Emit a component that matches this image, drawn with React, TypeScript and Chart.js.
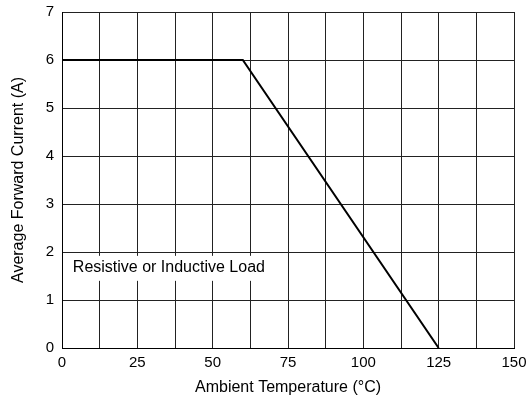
import React, { useEffect, useRef } from "react";
import { Chart, registerables } from "chart.js";

Chart.register(...registerables);

const tempPoints = [0, 60, 125];
const currentPoints = [6, 6, 0];
const xTickLabels = ["0", "25", "50", "75", "100", "125", "150"];
const yTickLabels = ["0", "1", "2", "3", "4", "5", "6", "7"];
const noteText = "Resistive or Inductive Load";
const noteAt = { x: 3.6, y: 1.67 };

const FONT = "'Liberation Sans', Arial, sans-serif";

const notePlugin = {
  id: "note",
  beforeDatasetsDraw(chart: any) {
    const { ctx, scales, chartArea } = chart;
    const px = scales.x.getPixelForValue(noteAt.x);
    const py = scales.y.getPixelForValue(noteAt.y);
    ctx.save();
    ctx.font = `16px ${FONT}`;
    const w = ctx.measureText(noteText).width;
    ctx.fillStyle = "#fff";
    ctx.fillRect(chartArea.left + 1, py - 12, px - chartArea.left - 1 + w + 10, 25);
    ctx.restore();
  },
  afterDatasetsDraw(chart: any) {
    const { ctx, scales } = chart;
    const px = scales.x.getPixelForValue(noteAt.x);
    const py = scales.y.getPixelForValue(noteAt.y);
    ctx.save();
    ctx.font = `16px ${FONT}`;
    ctx.fillStyle = "#000";
    ctx.textAlign = "left";
    ctx.textBaseline = "middle";
    ctx.fillText(noteText, px, py);
    ctx.restore();
  },
};

export default function App() {
  const ref = useRef<HTMLCanvasElement | null>(null);
  useEffect(() => {
    if (!ref.current) return;
    const chart = new Chart(ref.current, {
      type: "line",
      data: {
        datasets: [
          {
            data: tempPoints.map((t, i) => ({ x: t, y: currentPoints[i] })),
            borderColor: "#000",
            borderWidth: 2,
            pointRadius: 0,
            fill: false,
            tension: 0,
          },
        ],
      },
      options: {
        animation: false,
        responsive: false,
        maintainAspectRatio: false,
        layout: { padding: { left: 0, top: 12, right: 13, bottom: 0 } },
        plugins: { legend: { display: false }, tooltip: { enabled: false } },
        scales: {
          x: {
            type: "linear",
            min: 0,
            max: 150,
            afterFit(scale: any) {
              scale.height = 53;
              scale.paddingLeft = 0;
              scale.paddingRight = 0;
            },
            afterBuildTicks(scale: any) {
              const t = [];
              for (let v = 0; v <= 150; v += 12.5) t.push({ value: v });
              scale.ticks = t;
            },
            ticks: {
              autoSkip: false,
              maxRotation: 0,
              color: "#000",
              font: { family: FONT, size: 15 },
              padding: 6,
              callback: (v: any) => {
                const idx = xTickLabels.indexOf(String(v));
                return idx >= 0 ? xTickLabels[idx] : "";
              },
            },
            grid: { color: "#222", lineWidth: 1, drawTicks: false },
            border: { color: "#000", width: 1 },
            title: {
              display: true,
              text: "Ambient Temperature (°C)",
              color: "#000",
              font: { family: FONT, size: 16 },
              padding: { top: 4, bottom: 4 },
            },
          },
          y: {
            type: "linear",
            min: 0,
            max: 7,
            afterFit(scale: any) {
              scale.width = 62;
              scale.paddingTop = 0;
              scale.paddingBottom = 0;
            },
            ticks: {
              stepSize: 1,
              color: "#000",
              font: { family: FONT, size: 15 },
              padding: 8,
              callback: (v: any) => yTickLabels[Number(v)] ?? "",
            },
            grid: { color: "#222", lineWidth: 1, drawTicks: false },
            border: { color: "#000", width: 1 },
            title: {
              display: true,
              text: "Average Forward Current (A)",
              color: "#000",
              font: { family: FONT, size: 16 },
              padding: { top: 9, bottom: 6 },
            },
          },
        },
      },
      plugins: [notePlugin],
    } as any);
    return () => chart.destroy();
  }, []);
  return (
    <div style={{ position: "absolute", left: 0, top: 0, width: 527, height: 401, background: "#fff" }}>
      <canvas ref={ref} width={527} height={401} style={{ width: 527, height: 401 }} />
    </div>
  );
}
